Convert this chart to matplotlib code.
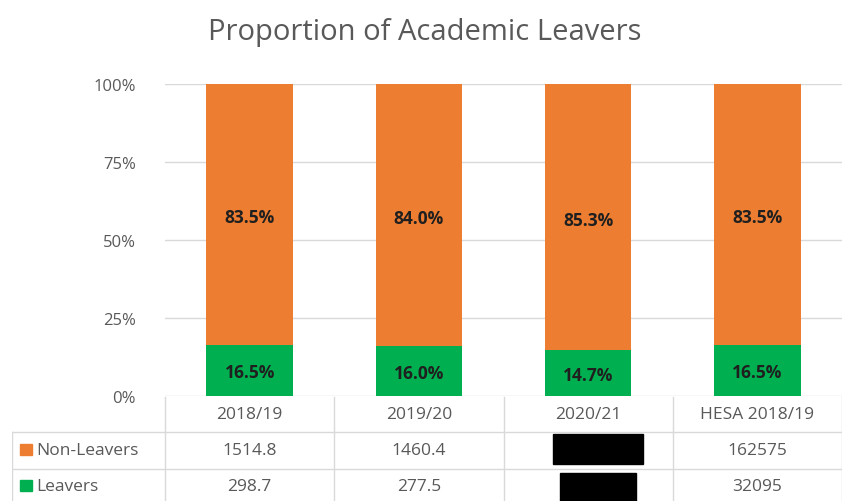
import matplotlib.pyplot as plt
from matplotlib.patches import Rectangle

# categories and stacked percentage values
years = ['2018/19', '2019/20', '2020/21', 'HESA 2018/19']
leavers_pct = [16.5, 16.0, 14.7, 16.5]
non_leavers_pct = [83.5, 84.0, 85.3, 83.5]

# raw counts shown in the data table (None = redacted)
non_leavers_raw = ['1514.8', '1460.4', None, '162575']
leavers_raw = ['298.7', '277.5', None, '32095']

ORANGE = '#ED7D31'
GREEN = '#00B050'
GREY_TXT = '#595959'
GRID = '#D9D9D9'

plt.rcParams['font.family'] = ['Open Sans', 'DejaVu Sans']

W, H = 842, 502
fig = plt.figure(figsize=(W / 100, H / 100), dpi=100)

# main chart area (pixel rows 85..397)
ax = fig.add_axes([165 / W, (H - 397) / H, (W - 165) / W, (397 - 85) / H])
x = list(range(len(years)))
bw = 0.51
ax.bar(x, leavers_pct, bw, color=GREEN, zorder=3)
ax.bar(x, non_leavers_pct, bw, bottom=leavers_pct, color=ORANGE, zorder=3)

for i in x:
    ax.text(i, leavers_pct[i] / 2 - 0.5, f'{leavers_pct[i]:.1f}%', ha='center', va='center',
            fontsize=12.5, fontweight='bold', color='#1F1F1F', zorder=4)
    ax.text(i, leavers_pct[i] + non_leavers_pct[i] / 2 - 1, f'{non_leavers_pct[i]:.1f}%',
            ha='center', va='center', fontsize=12.5, fontweight='bold', color='#1F1F1F', zorder=4)

ax.set_xlim(-0.5, 3.5)
ax.set_ylim(0, 100)
ax.set_yticks([0, 25, 50, 75, 100])
ax.set_yticklabels(['0%', '25%', '50%', '75%', '100%'])
ax.tick_params(axis='y', length=0, pad=21, labelsize=12, labelcolor=GREY_TXT)
ax.tick_params(axis='x', length=0, labelbottom=False)
ax.grid(axis='y', color=GRID, linewidth=1, zorder=0)
for s in ax.spines.values():
    s.set_visible(False)

fig.text(425 / W, 1 - 33 / H, 'Proportion of Academic Leavers', ha='center', va='center',
         fontsize=21, color=GREY_TXT)

# data table below the chart (y in pixel rows, top-down)
unit = (W - 165) / 4
tab = fig.add_axes([12 / W, 0, (W - 12) / W, (H - 397) / H])
left = -0.5 - (165 - 12) / unit
tab.set_xlim(left, 3.5)
tab.set_ylim(H, 397)
tab.axis('off')

for b in [-0.5, 0.5, 1.5, 2.5, 3.5]:
    tab.plot([b, b], [398, H], color=GRID, lw=1)
tab.plot([left, left], [433, H], color=GRID, lw=1)
for yy in [433, 470]:
    tab.plot([left, 3.5], [yy, yy], color=GRID, lw=1)

for i, yr in enumerate(years):
    tab.text(i, 415, yr, ha='center', va='center', fontsize=12.5, color=GREY_TXT)

rows = [('Non-Leavers', ORANGE, non_leavers_raw, 451, (435, 465), 0.53),
        ('Leavers', GREEN, leavers_raw, 487, (474, H + 2), 0.45)]
for name, col, vals, yc, (y0, y1), bwid in rows:
    tab.add_patch(Rectangle((left + 8 / unit, yc - 6), 12 / unit, 11, color=col))
    tab.text(left + 24 / unit, yc, name, ha='left', va='center', fontsize=12.5, color=GREY_TXT)
    for i, v in enumerate(vals):
        if v is None:
            tab.add_patch(Rectangle((i + 0.058 - bwid / 2, y0), bwid, y1 - y0, color='black'))
        else:
            tab.text(i, yc, v, ha='center', va='center', fontsize=12.5, color=GREY_TXT)

fig.savefig('out.png', dpi=100)
